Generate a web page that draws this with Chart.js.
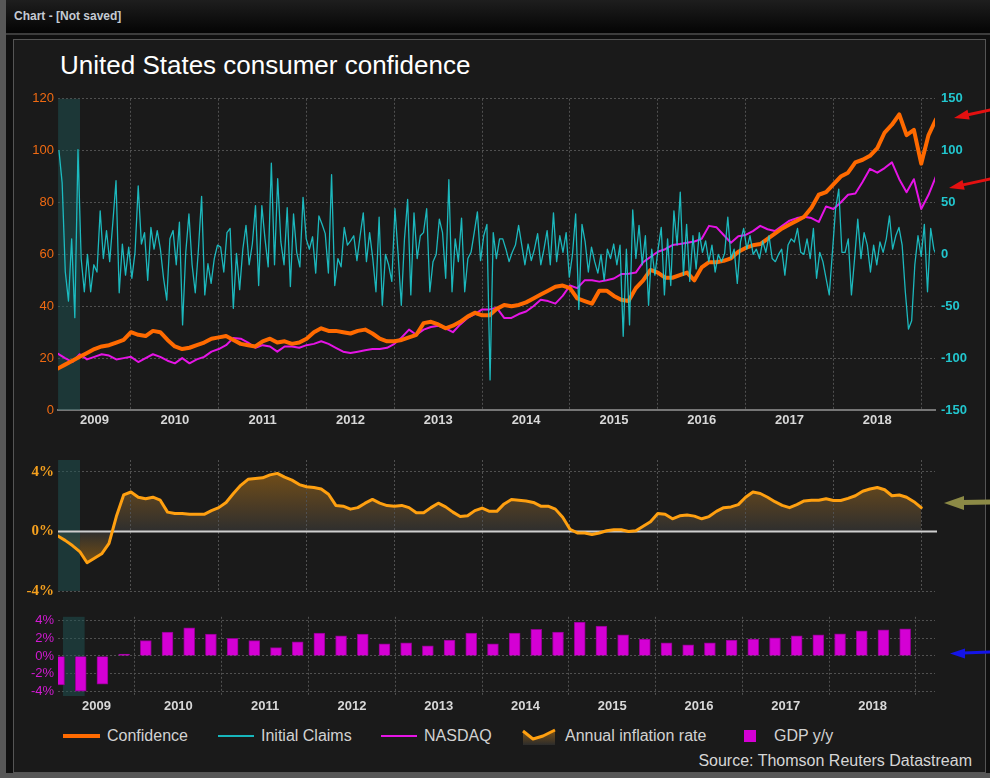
<!DOCTYPE html>
<html>
<head>
<meta charset="utf-8">
<title>United States consumer confidence</title>
<script src="https://cdn.jsdelivr.net/npm/chart.js@4.4.0/dist/chart.umd.min.js"></script>
<style>
html, body { margin: 0; padding: 0; }
body { width: 990px; height: 778px; position: relative; overflow: hidden; background: #575757;
       font-family: "Liberation Sans", Arial, sans-serif; }
#titlebar { position: absolute; left: 6px; top: 0; width: 984px; height: 33px;
            background: linear-gradient(#1e1e1e, #040404); color: #c4cad2;
            font-weight: bold; font-size: 12px; line-height: 33px; }
#titlebar span { margin-left: 8px; }
#frame { position: absolute; left: 6px; top: 33px; width: 984px; height: 740px; background: #0f0f0f;
         border-top: 2px solid #3c3c3c; box-sizing: border-box; }
#box { position: absolute; left: 13px; top: 39px; width: 973px; height: 734px; background: #1a1a1a;
       border: 1px solid #555; box-sizing: border-box; }
#title { position: absolute; left: 60px; top: 50px; font-size: 26px; line-height: 30px; color: #fff; }
canvas { position: absolute; left: 0; }
.ico { position: absolute; }
.ltxt { position: absolute; top: 727px; font-size: 16px; line-height: 18px; color: #d2d2d2; white-space: nowrap; }
#source { position: absolute; right: 18px; top: 752px; font-size: 16px; line-height: 18px; color: #d6d6d6; }
#arrows { position: absolute; left: 0; top: 0; }
</style>
</head>
<body>
<div id="titlebar"><span>Chart - [Not saved]</span></div>
<div id="frame"></div>
<div id="box"></div>
<div id="title">United States consumer confidence</div>

<canvas id="top" width="990" height="350" style="top:85px"></canvas>
<canvas id="mid" width="990" height="157" style="top:447px"></canvas>
<canvas id="bot" width="990" height="120" style="top:605px"></canvas>

<svg class="ico" style="left:63px;top:731px" width="37" height="10"><line x1="0" y1="5" x2="37" y2="5" stroke="#ff6a00" stroke-width="4"/></svg>
<div class="ltxt" style="left:107px">Confidence</div>
<svg class="ico" style="left:218px;top:731px" width="36" height="10"><line x1="0" y1="5" x2="36" y2="5" stroke="#17b6bc" stroke-width="2"/></svg>
<div class="ltxt" style="left:261px">Initial Claims</div>
<svg class="ico" style="left:381px;top:731px" width="36" height="10"><line x1="0" y1="5" x2="36" y2="5" stroke="#e514e5" stroke-width="2"/></svg>
<div class="ltxt" style="left:424px">NASDAQ</div>
<svg class="ico" style="left:521px;top:727px" width="36" height="18">
  <defs><linearGradient id="lg" x1="0" y1="0" x2="0" y2="1"><stop offset="0" stop-color="#7d5214"/><stop offset="1" stop-color="#2c2c2c"/></linearGradient></defs>
  <path d="M2,4 L12,12 L22,9 L34,3 L34,18 L2,18 Z" fill="url(#lg)"/>
  <polyline points="2,4 12,12 22,9 34,3" fill="none" stroke="#ffa010" stroke-width="3" stroke-linejoin="round"/>
</svg>
<div class="ltxt" style="left:565px">Annual inflation rate</div>
<div class="ico" style="left:744px;top:730px;width:12px;height:12px;background:#d400d4"></div>
<div class="ltxt" style="left:774px">GDP y/y</div>
<div id="source">Source: Thomson Reuters Datastream</div>

<svg id="arrows" width="990" height="778">
  <line x1="992" y1="109.5" x2="968" y2="114.8" stroke="#e41010" stroke-width="3"/>
  <polygon points="954,118 969.7,119.6 967.5,109.8" fill="#e41010"/>
  <line x1="992" y1="178.6" x2="963" y2="184.9" stroke="#e41010" stroke-width="3"/>
  <polygon points="949,188 964.7,189.7 962.5,179.9" fill="#e41010"/>
  <line x1="992" y1="502" x2="962" y2="502.6" stroke="#8c8a46" stroke-width="5"/>
  <polygon points="944,503 964,496 964,510" fill="#8c8a46"/>
  <line x1="992" y1="652" x2="963" y2="653" stroke="#1414e8" stroke-width="3"/>
  <polygon points="950,653.5 965,648.5 965,658.5" fill="#1414e8"/>
</svg>

<script>
// ---- data ----
// monthly series, first point = March 2009
const MONTH_START = 2009 + 2 / 12;

const CONFIDENCE = [
  16, 17.5, 19, 20.5, 22, 23.5, 24.5, 25, 26, 27,
  30, 29, 28.5, 30.5, 30, 27, 24.5, 23.5, 24, 25,
  26, 27.5, 28, 28.5, 27, 25.5, 25, 24.5, 26.5, 27.5,
  26, 26.5, 25.5, 26, 27.5, 30, 31.5, 30.5, 30.5, 30,
  29.5, 30.5, 31, 29.5, 27.5, 26.5, 26.5, 27, 28, 29,
  33.5, 34, 33, 31.5, 32.5, 34, 36, 37.5, 36.5, 36.5,
  39, 40.5, 40, 40.5, 41.5, 43, 44.5, 46, 47.5, 48,
  47, 43, 42, 41, 46, 46, 44, 42.5, 42, 47,
  50, 54, 53, 51, 51, 52, 53, 50, 55, 57,
  57, 57.5, 58.5, 61, 62.5, 63.5, 64, 66, 68, 70,
  71.5, 73, 74.5, 78, 83, 84, 87, 90, 91.5, 95.5,
  96.5, 98, 101, 107, 110, 114, 106, 108, 95, 106,
  112
];

const NASDAQ = [
  21.7, 20, 18.5, 21.5, 19.5, 20.5, 21.5, 21, 19.5, 20,
  20.5, 18.5, 20, 21.5, 20.5, 19, 18, 20, 18, 19.5,
  20.5, 22.5, 23.5, 25, 27.8, 27.5, 26, 24, 25, 24.5,
  22.5, 24.5, 24.5, 24, 25, 25.5, 26.5, 25.5, 24, 22.5,
  22, 22.5, 23, 23.5, 23.5, 24, 25.5, 28, 31, 29,
  31, 32, 32.5, 31.5, 30, 33, 35.5, 37, 38.8, 38.8,
  39.4, 35.5, 35.5, 37, 38, 40, 42.5, 42, 41, 44,
  48, 47, 50, 50, 49.5, 50, 50.7, 52.4, 52.5, 53,
  57, 59, 61, 62, 63.6, 64, 64.5, 65, 66, 71,
  70.5, 67.5, 64.5, 67, 67.5, 69, 71, 69.7, 69, 71,
  73, 74, 74.5, 74, 72.5, 78.5, 77.5, 80, 83, 83.5,
  88, 93, 91.5, 93.3, 95.5, 89, 84, 89, 77.5, 83,
  90
];

const INFLATION = [
  -0.3, -0.6, -0.95, -1.35, -2.1, -1.8, -1.5, -0.8, 1.0, 2.45,
  2.65, 2.3, 2.2, 2.3, 2.1, 1.3, 1.2, 1.2, 1.15, 1.15,
  1.15, 1.4, 1.6, 1.95, 2.55, 3.1, 3.5, 3.55, 3.6, 3.8,
  3.9, 3.65, 3.45, 3.15, 3.0, 2.95, 2.85, 2.5, 1.75, 1.7,
  1.5, 1.6, 1.9, 2.15, 1.9, 1.74, 1.7, 1.75, 1.6, 1.25,
  1.25, 1.6, 1.9, 1.65, 1.3, 1.0, 1.05, 1.4, 1.57, 1.35,
  1.35, 1.85, 2.15, 2.1, 2.05, 1.95, 1.7, 1.7, 1.5, 0.95,
  0.15, -0.1, -0.1, -0.2, -0.1, 0.05, 0.12, 0.12, 0.0, 0.05,
  0.35, 0.65, 1.2, 1.15, 0.85, 1.05, 1.1, 1.03, 0.85, 1.0,
  1.35, 1.6, 1.65, 1.8, 2.3, 2.65, 2.55, 2.3, 2.0, 1.75,
  1.6, 1.8, 2.05, 2.1, 2.1, 2.2, 2.08, 2.08, 2.22, 2.4,
  2.7, 2.85, 2.95, 2.8, 2.4, 2.45, 2.3, 2.0, 1.6
];

// initial claims (right axis), readings spread evenly between these dates
const CLAIMS_START = 2009.18;
const CLAIMS_END = 2019.18;
const CLAIMS = [
  100, 69, -17, -45, 15, -61, 101, -4, -36, 0, -36, -10, -17, 42,
  -4, 23, -7, 31, 71, -37, 10, -20, 7, -23, 2, 66, 10, 21, -25, 26, 5, 23, 5, -23,
  -44, 15, 23, -10, 31, -68, 2, 39, -10, -37, 5, 56, -39, -9, -28, -4, 9, 7, -17, 21,
  25, -52, 1, -34, 5, 28, -10, 10, 47, -30, 47, 15, -12, 88, -10, 73, 12, -10, 45, -31,
  39, 2, -12, 55, 15, 5, 17, -18, 37, 29, 20, -18, 77, -30, -4, -12, 26, 9, 13, 18, -6,
  18, 40, -7, 21, -4, -36, 36, -49, 0, -10, -26, 44, 0, -49, 15, 53, -39, 40, -4, 18,
  21, 44, -36, -7, 0, 34, 21, -23, 72, -36, 15, -7, 35, -36, -4, 2, 21, 41, -6, 18,
  29, -121, 21, -4, 15, 15, 5, -7, 2, 9, 28, 9, -10, 10, -6, 5, 20, -10, 5, 23,
  -10, 40, -7, 18, 2, 21, -22, 0, 39, -53, 29, 12, -17, 7, -7, -18, 0, -25, 5, -4,
  10, -10, 9, -79, 5, -68, 43, -4,
  28, -10, 18, -49, 5, -20, 5, 26, -39, 15, -30, 42, 9, 60, -20, 29, -26, 18, -14, 21,
  2, 13, -7, 9, -17, 0, -7, 1, 36, -4, 5, -28, 12, 25, 5, 18, 0, 5, -4, 13,
  2, 18, -4, -7, 0, 5, -20, 9, 15, 12, 25, 2, 0, 15, -4, 25, -23, 2, -7, -23,
  -39, 2, 44, 63, 2, 2, 15, -39, -4, 34, -4, 21, 9, -17, 9, -10, 12, 2, 15, 37,
  5, 18, 26, 9, -36, -72, -64, -10, 18, -2, 29, -36, 25, 5, -2
];

// GDP y/y, quarterly from Q1 2009 (bar centred mid-quarter)
const GDP_START = 2009.125;
const GDP = [
  -3.3, -4.0, -3.2, 0.2, 1.75, 2.7, 3.2, 2.5, 2.0, 1.75,
  0.95, 1.6, 2.6, 2.3, 2.5, 1.37, 1.48, 1.15, 1.8, 2.6,
  1.37, 2.6, 3.04, 2.7, 3.85, 3.4, 2.4, 1.93, 1.48, 1.26,
  1.48, 1.8, 1.93, 2.07, 2.3, 2.4, 2.52, 2.85, 2.96, 3.07
];

const RECESSION = [2009.17, 2009.42];
const YEAR_GRID = [2010, 2011, 2012, 2013, 2014, 2015, 2016, 2017, 2018, 2019];
const YEAR_LABELS = ['2009', '2010', '2011', '2012', '2013', '2014', '2015', '2016', '2017', '2018'];
const INFL_TICKS = [-4, 0, 4];
const GDP_TICKS = [-4, -2, 0, 2, 4];

// visible ranges of the panels
const XMIN = 2009.169, XMAX = 2019.157;
const BMIN = 2009.113, BMAX = 2019.219;

Chart.defaults.font.family = '"Liberation Sans", Arial, sans-serif';
Chart.defaults.color = '#d6d6d6';

const GRID_COLOR = '#505050';

function gridAxis(min, max, border) {
  return {
    type: 'linear', min, max, weight: 0, offset: false,
    afterBuildTicks: s => { s.ticks = YEAR_GRID.map(v => ({ value: v })); },
    grid: { color: GRID_COLOR, drawTicks: false, offset: false },
    border: Object.assign({ dash: [2, 2] }, border),
    ticks: { display: false },
    afterFit: s => { s.height = 0; }
  };
}

function labelAxis(min, max, h) {
  return {
    type: 'linear', min, max, weight: 1, offset: false,
    afterBuildTicks: s => {
      const vals = [(min + YEAR_GRID[0]) / 2].concat(YEAR_GRID.slice(0, -1).map(v => v + 0.5));
      s.ticks = vals.map(v => ({ value: v }));
    },
    grid: { display: false, drawTicks: false, offset: false },
    border: { display: false },
    ticks: { color: '#d8d8d8', font: { size: 13, weight: 'bold' }, padding: 3,
             maxRotation: 0, autoSkip: false, callback: (v, i) => YEAR_LABELS[i] },
    afterFit: s => { s.height = h; }
  };
}

const recessionShade = {
  id: 'recessionShade',
  beforeDatasetsDraw(chart) {
    const { ctx, chartArea: a } = chart;
    const x = chart.scales.x;
    const x0 = Math.max(a.left, x.getPixelForValue(RECESSION[0]));
    const x1 = x.getPixelForValue(RECESSION[1]);
    ctx.save();
    ctx.fillStyle = 'rgba(30,84,84,0.5)';
    ctx.fillRect(x0, a.top, x1 - x0, a.bottom - a.top);
    ctx.restore();
  }
};

const baseOpts = {
  responsive: false,
  animation: false,
  events: [],
  plugins: { legend: { display: false }, tooltip: { enabled: false } },
  elements: { point: { radius: 0 }, line: { tension: 0, borderJoinStyle: 'round', borderCapStyle: 'round' } }
};

// ---- top panel ----
const claimStep = (CLAIMS_END - CLAIMS_START) / (CLAIMS.length - 1);

new Chart(document.getElementById('top'), {
  type: 'line',
  data: {
    datasets: [
      { label: 'Initial Claims', yAxisID: 'y2', order: 0,
        data: CLAIMS.map((v, i) => ({ x: CLAIMS_START + i * claimStep, y: v })),
        borderColor: 'rgba(28,206,212,0.88)', borderWidth: 1.3 },
      { label: 'Confidence', yAxisID: 'y', order: 1,
        data: CONFIDENCE.map((v, i) => ({ x: MONTH_START + i / 12, y: v })),
        borderColor: '#ff6a00', borderWidth: 4 },
      { label: 'NASDAQ', yAxisID: 'y', order: 2,
        data: NASDAQ.map((v, i) => ({ x: MONTH_START + i / 12, y: v })),
        borderColor: '#e514e5', borderWidth: 2 }
    ]
  },
  options: Object.assign({}, baseOpts, {
    layout: { padding: { top: 10, left: 0, right: 0, bottom: 0 } },
    scales: {
      x: gridAxis(XMIN, XMAX, { display: true, color: '#767676', width: 2 }),
      xl: labelAxis(XMIN, XMAX, 25),
      y: { position: 'left', min: 0, max: 120,
           ticks: { stepSize: 20, color: '#f06a12', font: { size: 13 }, padding: 4 },
           grid: { color: GRID_COLOR, drawTicks: false },
           border: { display: false, dash: [2, 2] },
           afterFit: s => { s.width = 58; } },
      y2: { position: 'right', min: -150, max: 150,
            ticks: { stepSize: 50, color: '#22c6ce', font: { size: 13, weight: 'bold' }, padding: 6 },
            grid: { display: false, drawTicks: false },
            border: { display: false },
            afterFit: s => { s.width = 55; } }
    }
  }),
  plugins: [recessionShade]
});

// ---- middle panel: annual inflation rate ----
const zeroLine = {
  id: 'zeroLine',
  beforeDatasetsDraw(chart) {
    const { ctx, chartArea: a } = chart;
    const y0 = chart.scales.y.getPixelForValue(0);
    ctx.save();
    ctx.strokeStyle = '#cfcfcf';
    ctx.lineWidth = 2;
    ctx.beginPath();
    ctx.moveTo(a.left, y0);
    ctx.lineTo(a.right + 2, y0);
    ctx.stroke();
    ctx.restore();
  }
};

function inflationFill(c) {
  const { ctx, chartArea, scales } = c.chart;
  if (!chartArea) return 'rgba(0,0,0,0)';
  const h = chartArea.bottom - chartArea.top;
  const f = v => Math.min(1, Math.max(0, (scales.y.getPixelForValue(v) - chartArea.top) / h));
  const g = ctx.createLinearGradient(0, chartArea.top, 0, chartArea.bottom);
  g.addColorStop(0, 'rgb(128,84,20)');
  g.addColorStop(f(0), 'rgb(46,46,46)');
  g.addColorStop(f(-2.2), 'rgb(120,80,18)');
  g.addColorStop(1, 'rgb(120,80,18)');
  return g;
}

new Chart(document.getElementById('mid'), {
  type: 'line',
  data: {
    datasets: [
      { label: 'Annual inflation rate',
        data: INFLATION.map((v, i) => ({ x: MONTH_START + i / 12, y: v })),
        borderColor: '#ffa010', borderWidth: 3,
        fill: 'origin', backgroundColor: inflationFill }
    ]
  },
  options: Object.assign({}, baseOpts, {
    layout: { padding: { top: 10, left: 0, right: 55, bottom: 0 } },
    plugins: { legend: { display: false }, tooltip: { enabled: false }, filler: { drawTime: 'beforeDraw' } },
    scales: {
      x: Object.assign(gridAxis(XMIN, XMAX, { display: false }), { afterFit: s => { s.height = 12; } }),
      y: { position: 'left', min: -4, max: 4.8,
           afterBuildTicks: s => { s.ticks = INFL_TICKS.map(v => ({ value: v })); },
           ticks: { color: '#f5a01e', font: { family: '"Liberation Serif", serif', size: 15, weight: 'bold' },
                    padding: 4, callback: v => v + '%' },
           grid: { color: c => (c.tick && c.tick.value === 0) ? 'rgba(0,0,0,0)' : GRID_COLOR, drawTicks: false },
           border: { display: false, dash: [2, 2] },
           afterFit: s => { s.width = 58; } }
    }
  }),
  plugins: [recessionShade, zeroLine]
});

// ---- bottom panel: GDP y/y ----
new Chart(document.getElementById('bot'), {
  type: 'bar',
  data: {
    datasets: [
      { label: 'GDP y/y',
        data: GDP.map((v, i) => ({ x: GDP_START + i * 0.25, y: v })),
        backgroundColor: '#d400d4', borderColor: '#8e008e', borderWidth: 1,
        barThickness: 11 }
    ]
  },
  options: Object.assign({}, baseOpts, {
    layout: { padding: { top: 10, left: 0, right: 55, bottom: 0 } },
    scales: {
      x: gridAxis(BMIN, BMAX, { display: false }),
      xl: labelAxis(BMIN, BMAX, 29),
      y: { position: 'left', min: -4.55, max: 4.45,
           afterBuildTicks: s => { s.ticks = GDP_TICKS.map(v => ({ value: v })); },
           ticks: { color: '#d21ad2', font: { size: 13 }, padding: 4, callback: v => v + '%' },
           grid: { color: GRID_COLOR, drawTicks: false },
           border: { display: false, dash: [2, 2] },
           afterFit: s => { s.width = 58; } }
    }
  }),
  plugins: [recessionShade]
});
</script>
</body>
</html>
